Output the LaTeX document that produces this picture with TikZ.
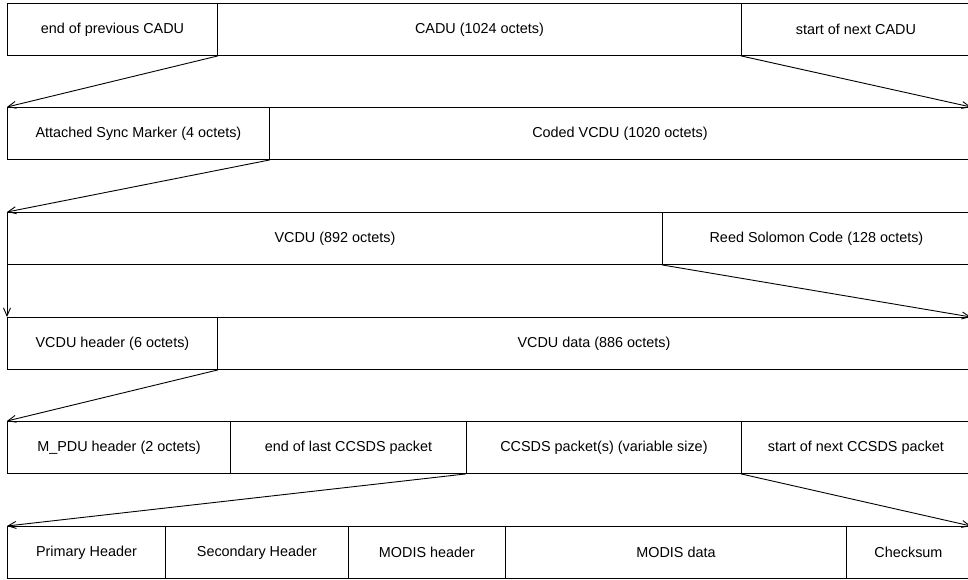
\documentclass[tikz,border=0pt]{standalone}
\usepackage{fontspec}
\setmainfont{Liberation Sans}
\usetikzlibrary{arrows.meta}

\tikzset{
  field/.style={draw,anchor=north west,minimum height=52pt,inner sep=0pt,
    font=\fontsize{14.4}{17}\selectfont},
  split/.style={->,line width=0.9pt}
}

\begin{document}
\begin{tikzpicture}[x=1pt,y=-1pt,line width=0.9pt,>={Straight Barb[length=8pt,width=7pt]}]
\useasboundingbox (0,0) rectangle (968,579);
\clip (0,0) rectangle (968,579);
% CADU stream
\node[field,minimum width=210pt] (prevcadu) at (7,3) {end of previous CADU};
\node[field,minimum width=524pt] (cadu) at (217,3) {CADU (1024 octets)};
\node[field,minimum width=229pt] (nextcadu) at (741,3) {start of next CADU};
% CADU = sync marker + coded VCDU
\node[field,minimum width=262pt] (asm) at (7,107) {Attached Sync Marker (4 octets)};
\node[field,minimum width=701pt] (coded) at (269,107) {Coded VCDU (1020 octets)};
% coded VCDU = VCDU + RS check symbols
\node[field,minimum width=655pt] (vcdu) at (7,212) {VCDU (892 octets)};
\node[field,minimum width=308pt] (rscode) at (662,212) {Reed Solomon Code (128 octets)};
% VCDU = header + data
\node[field,minimum width=210pt] (vhdr) at (7,317) {VCDU header (6 octets)};
\node[field,minimum width=753pt] (vdata) at (217,317) {VCDU data (886 octets)};
% M_PDU
\node[field,minimum width=223pt] (mpdu) at (7,421) {M\_PDU header (2 octets)};
\node[field,minimum width=236pt] (lastpkt) at (230,421) {end of last CCSDS packet};
\node[field,minimum width=275pt] (packets) at (466,421) {CCSDS packet(s) (variable size)};
\node[field,minimum width=229pt] (nextpkt) at (741,421) {start of next CCSDS packet};
% one CCSDS packet
\node[field,minimum width=158pt] (primhdr) at (7,526) {Primary Header};
\node[field,minimum width=183pt] (sechdr) at (165,526) {Secondary Header};
\node[field,minimum width=157pt] (modishdr) at (348,526) {MODIS header};
\node[field,minimum width=341pt] (modisdata) at (505,526) {MODIS data};
\node[field,minimum width=124pt] (checksum) at (846,526) {Checksum};

\draw[split] (prevcadu.south east) -- (asm.north west);
\draw[split] (nextcadu.south west) -- (coded.north east);
\draw[split] (asm.south east) -- (vcdu.north west);
\draw[split] (vcdu.south west) -- (vhdr.north west);
\draw[split] (rscode.south west) -- (vdata.north east);
\draw[split] (vhdr.south east) -- (mpdu.north west);
\draw[split] (packets.south west) -- (primhdr.north west);
\draw[split] (nextpkt.south west) -- (checksum.north east);
\end{tikzpicture}
\end{document}
